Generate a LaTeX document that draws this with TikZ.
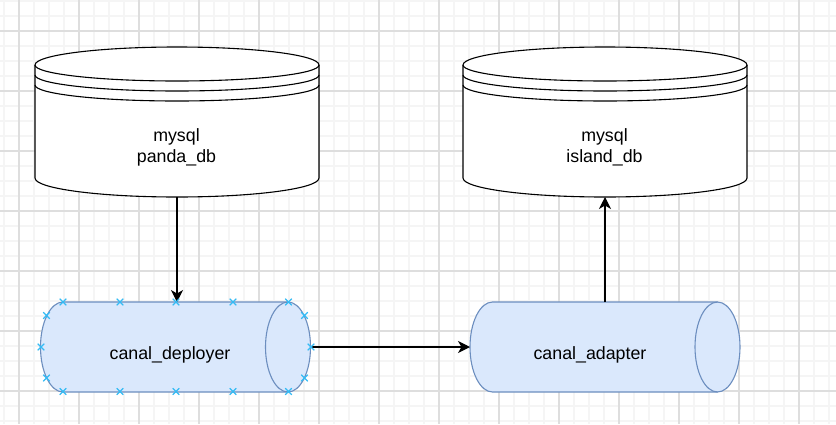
\documentclass[tikz,border=0pt]{standalone}
\usepackage{fontspec}
\setmainfont{Liberation Sans}
\usetikzlibrary{arrows.meta}
\definecolor{pipeblue}{HTML}{6C8EBF}
\definecolor{pipefill}{HTML}{DAE8FC}
\definecolor{hitblue}{HTML}{33BBF5}
\tikzset{
  x=1pt,y=-1pt,
  minorgrid/.style={draw=black!4,line width=1.6pt},
  majorgrid/.style={draw=black!13,line width=1.8pt},
  dbline/.style={draw=black,line width=1.1pt,fill=white},
  pipe/.style={draw=pipeblue,line width=1.1pt,fill=pipefill},
  anchorbox/.style={inner sep=0pt,outer sep=0pt,rectangle},
  lbl/.style={font=\fontsize{17.8}{21}\selectfont,align=center,text=black,inner sep=0pt},
  conn/.style={draw=black,line width=1.1pt,-{Stealth[length=12pt,width=12pt,inset=3.5pt]}},
  hit/.style={draw=hitblue,line width=1.1pt},
}
\newcommand{\dbshape}[1]{%
  \path[dbline] (#1-142,65) -- (#1-142,178) arc[start angle=180,end angle=360,x radius=142pt,y radius=19pt] -- (#1+142,65) arc[start angle=0,end angle=180,x radius=142pt,y radius=18pt] -- cycle;
  \draw[dbline,fill=none] (#1-142,65) arc[start angle=180,end angle=360,x radius=142pt,y radius=16pt];
  \draw[dbline,fill=none] (#1-142,75) arc[start angle=180,end angle=360,x radius=142pt,y radius=16pt];
  \draw[dbline,fill=none] (#1-142,85) arc[start angle=180,end angle=360,x radius=142pt,y radius=16pt];
}
\newcommand{\pipeshape}[1]{%
  \path[pipe] (#1+22.5,302) -- (#1+247.5,302) arc[start angle=90,end angle=-90,x radius=22.5pt,y radius=45pt] -- (#1+22.5,392) arc[start angle=270,end angle=90,x radius=22.5pt,y radius=45pt] -- cycle;
  \draw[pipe,fill=none] (#1+247.5,302) arc[start angle=90,end angle=270,x radius=22.5pt,y radius=45pt];
}
\newcommand{\hitx}[2]{\draw[hit] (#1-3.3,#2-3.3) -- (#1+3.3,#2+3.3) (#1-3.3,#2+3.3) -- (#1+3.3,#2-3.3);}
\begin{document}
\begin{tikzpicture}
\useasboundingbox (0,0) rectangle (836,424);
\fill[white] (0,0) rectangle (836,424);
\foreach \i in {0,...,55} {\path[minorgrid] (4+15*\i,0) -- (4+15*\i,424);}
\foreach \i in {0,...,28} {\path[minorgrid] (0,1+15*\i) -- (836,1+15*\i);}
\foreach \i in {0,...,13} {\path[majorgrid] (19+60*\i,0) -- (19+60*\i,424);}
\foreach \i in {0,...,6} {\path[majorgrid] (0,31+60*\i) -- (836,31+60*\i);}

\dbshape{177}
\dbshape{605}
\pipeshape{40.5}
\pipeshape{470}

\node[anchorbox,minimum width=284pt,minimum height=150pt] (pandadb) at (177,122) {};
\node[anchorbox,minimum width=284pt,minimum height=150pt] (islanddb) at (605,122) {};
\node[anchorbox,minimum width=270pt,minimum height=90pt] (deployer) at (175.5,347) {};
\node[anchorbox,minimum width=270pt,minimum height=90pt] (adapter) at (605,347) {};

\node[lbl] (pandalabel) at (176.5,147.7) {mysql\\panda\_db};
\node[lbl] (islandlabel) at (604.5,147.7) {mysql\\island\_db};
\node[lbl] (deployerlabel) at (170,355) {canal\_deployer};
\node[lbl] (adapterlabel) at (590,355) {canal\_adapter};

\draw[conn] (pandadb.south) -- (pandadb.south |- deployer.north);
\draw[conn] (deployer.east) -- (adapter.west);
\draw[conn] (adapter.north) -- (islanddb.south);

\foreach \px in {63,120,176,233,288.5} {\hitx{\px}{302}\hitx{\px}{391.5}}
\hitx{41}{347}\hitx{46.5}{315.5}\hitx{46.5}{378}
\hitx{304.5}{315.5}\hitx{311}{347}\hitx{304.5}{378}
\end{tikzpicture}
\end{document}
